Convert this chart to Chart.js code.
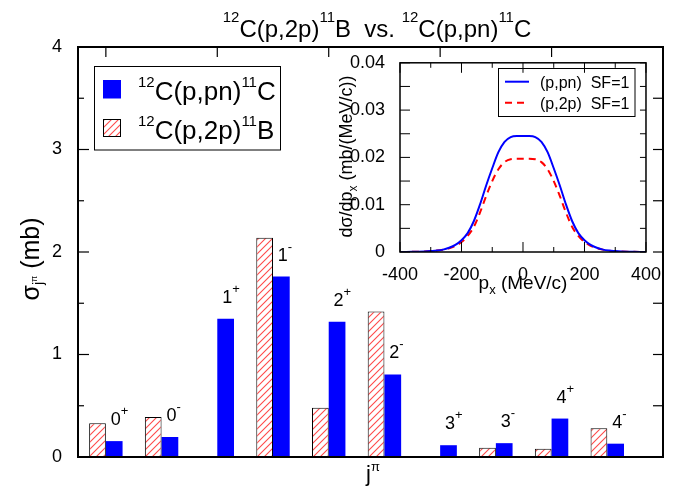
<!DOCTYPE html>
<html>
<head>
<meta charset="utf-8">
<script src="https://cdn.jsdelivr.net/npm/chart.js@4.4.0/dist/chart.umd.min.js"></script>
<style>
  body { margin: 0; background: #fff; }
  #wrap { position: relative; width: 683px; height: 493px; }
  #main { position: absolute; left: 0; top: 0; }
  #inset { position: absolute; left: 330px; top: 45px; }
</style>
</head>
<body>
<div id="wrap">
  <canvas id="main" width="683" height="493"></canvas>
  <canvas id="inset" width="335" height="255"></canvas>
</div>
<script>
// Main chart data: cross sections per final state j^pi
const stateJ = ['0', '0', '1', '1', '2', '2', '3', '3', '4', '4'];
const stateParity = ['+', '-', '+', '-', '+', '-', '+', '-', '+', '-'];
const sigma_p2p = [0.33, 0.39, 0, 2.14, 0.48, 1.42, 0, 0.09, 0.08, 0.28];
const sigma_ppn = [0.155, 0.195, 1.35, 1.76, 1.32, 0.805, 0.115, 0.135, 0.375, 0.13];
const yTicks = [0, 1, 2, 3, 4];

// Inset data: momentum distributions
const px = [-400, -380, -360, -340, -320, -300, -280, -260, -240, -220, -200, -180, -160, -140, -120, -100, -80, -60, -40, -20,
  0, 20, 40, 60, 80, 100, 120, 140, 160, 180, 200, 220, 240, 260, 280, 300, 320, 340, 360, 380, 400];
const dsdp_ppn = [0.00001, 0.00002, 0.00004, 0.00007, 0.00012, 0.0002, 0.0003, 0.0005, 0.0009, 0.0015, 0.0025, 0.0040, 0.0065, 0.0100, 0.0140, 0.0177, 0.0211, 0.0233, 0.0243, 0.0245,
  0.0245, 0.0245, 0.0243, 0.0233, 0.0211, 0.0177, 0.0140, 0.0100, 0.0065, 0.0040, 0.0025, 0.0015, 0.0009, 0.0005, 0.0003, 0.0002, 0.00012, 0.00007, 0.00004, 0.00002, 0.00001];
const dsdp_p2p = [0.00001, 0.00002, 0.00004, 0.00007, 0.00012, 0.0002, 0.0003, 0.0005, 0.0008, 0.0013, 0.0021, 0.0034, 0.0053, 0.0083, 0.0118, 0.0150, 0.0175, 0.0190, 0.0196, 0.0197,
  0.0197, 0.0197, 0.0196, 0.0190, 0.0175, 0.0150, 0.0118, 0.0083, 0.0053, 0.0034, 0.0021, 0.0013, 0.0008, 0.0005, 0.0003, 0.0002, 0.00012, 0.00007, 0.00004, 0.00002, 0.00001];

const FONT = '"Liberation Sans", Arial, Helvetica, sans-serif';

// red diagonal hatch on white
const hatchCanvas = document.createElement('canvas');
hatchCanvas.width = 7; hatchCanvas.height = 7;
const hg = hatchCanvas.getContext('2d');
hg.fillStyle = '#fff';
hg.fillRect(0, 0, 7, 7);
hg.strokeStyle = '#ff4a4a';
hg.lineWidth = 1.1;
hg.beginPath();
hg.moveTo(0, 7); hg.lineTo(7, 0);
hg.moveTo(-1, 1); hg.lineTo(1, -1);
hg.moveTo(6, 8); hg.lineTo(8, 6);
hg.stroke();
const hatch = hg.createPattern(hatchCanvas, 'repeat');

// draw text made of parts [text, size, dy]
function rich(ctx, x, y, parts, align) {
  let w = 0;
  parts.forEach(p => { ctx.font = p[1] + 'px ' + FONT; w += ctx.measureText(p[0]).width; });
  if (align === 'center') x -= w / 2;
  ctx.textAlign = 'left';
  ctx.textBaseline = 'alphabetic';
  parts.forEach(p => {
    ctx.font = p[1] + 'px ' + FONT;
    ctx.fillText(p[0], x, y + (p[2] || 0));
    x += ctx.measureText(p[0]).width;
  });
  return w;
}

function tick(ctx, x1, y1, x2, y2) {
  ctx.beginPath(); ctx.moveTo(x1, y1); ctx.lineTo(x2, y2); ctx.stroke();
}

const mainDeco = {
  id: 'mainDeco',
  afterDraw(chart) {
    const ctx = chart.ctx, ca = chart.chartArea;
    const xs = chart.scales.x, ys = chart.scales.y;
    ctx.save();
    ctx.fillStyle = '#000';
    ctx.strokeStyle = '#000';

    // labels above bars, anchored to the blue bars
    const blue = chart.getDatasetMeta(1).data;
    blue.forEach((el, i) => {
      rich(ctx, el.x - 3.5, el.y - 16, [[stateJ[i], 18], [stateParity[i], 13, -10]]);
    });

    // frame
    ctx.lineWidth = 2;
    ctx.strokeRect(ca.left, ca.top, ca.right - ca.left, ca.bottom - ca.top);

    // ticks
    ctx.lineWidth = 1.2;
    for (let v = 0; v <= 4; v += 0.5) {
      const y = ys.getPixelForValue(v);
      const len = Number.isInteger(v) ? 11 : 6;
      tick(ctx, ca.left, y, ca.left + len, y);
      tick(ctx, ca.right, y, ca.right - 10, y);
    }
    for (let i = 0; i <= 8; i += 2) {
      const x = xs.getPixelForValue(i);
      tick(ctx, x, ca.top, x, ca.top + 10);
    }

    // title
    rich(ctx, 377, 36.7, [['12', 15, -15], ['C(p,2p)', 24], ['11', 15, -15], ['B  vs. ', 24],
      ['12', 15, -15], ['C(p,pn)', 24], ['11', 15, -15], ['C', 24]], 'center');

    // axis titles
    rich(ctx, 366, 481, [['j', 22], ['\u03c0', 13, -10]]);
    ctx.save();
    ctx.translate(39, 259);
    ctx.rotate(-Math.PI / 2);
    rich(ctx, 0, 0, [['\u03c3', 25], ['j', 14, 4], ['\u03c0', 9, -2], [' (mb)', 25]], 'center');
    ctx.restore();

    // legend
    ctx.lineWidth = 1;
    ctx.strokeRect(94.5, 66.5, 186, 83.5);
    ctx.fillStyle = '#0000ff';
    ctx.fillRect(103, 80, 18, 18.5);
    ctx.fillStyle = hatch;
    ctx.fillRect(103.5, 119.5, 17, 17);
    ctx.strokeRect(103.5, 119.5, 17, 17);
    ctx.fillStyle = '#000';
    rich(ctx, 138, 100, [['12', 15, -13], ['C(p,pn)', 26], ['11', 15, -13], ['C', 26]]);
    rich(ctx, 138, 139, [['12', 15, -13], ['C(p,2p)', 26], ['11', 15, -13], ['B', 26]]);
    ctx.restore();
  }
};

new Chart(document.getElementById('main'), {
  type: 'bar',
  data: {
    datasets: [{
      label: '12C(p,2p)11B',
      data: sigma_p2p.map((v, i) => ({ x: i, y: v })),
      backgroundColor: hatch,
      borderColor: '#000',
      borderWidth: 1,
      categoryPercentage: 0.6,
      barPercentage: 1.0
    }, {
      label: '12C(p,pn)11C',
      data: sigma_ppn.map((v, i) => ({ x: i, y: v })),
      backgroundColor: '#0000ff',
      borderWidth: 0,
      categoryPercentage: 0.6,
      barPercentage: 1.0
    }]
  },
  options: {
    responsive: false,
    animation: false,
    layout: { padding: { top: 47, right: 20, left: 0, bottom: 0 } },
    plugins: { legend: { display: false }, tooltip: { enabled: false } },
    scales: {
      x: {
        type: 'linear', min: -0.5, max: 10, offset: false,
        grid: { display: false }, border: { display: false },
        ticks: { display: false },
        afterFit(s) { s.height = 36; }
      },
      y: {
        min: 0, max: 4,
        grid: { display: false }, border: { display: false },
        afterBuildTicks(s) { s.ticks = yTicks.map(v => ({ value: v })); },
        ticks: { color: '#000', font: { size: 18, family: FONT }, padding: 8 },
        afterFit(s) { s.width = 78; }
      }
    }
  },
  plugins: [mainDeco]
});

const insetDeco = {
  id: 'insetDeco',
  afterDraw(chart) {
    const ctx = chart.ctx, ca = chart.chartArea;
    const xs = chart.scales.x, ys = chart.scales.y;
    ctx.save();
    ctx.strokeStyle = '#000';
    ctx.fillStyle = '#000';
    ctx.lineWidth = 1.5;
    ctx.strokeRect(ca.left, ca.top, ca.right - ca.left, ca.bottom - ca.top);

    ctx.lineWidth = 1;
    for (let v = 0; v <= 0.0401; v += 0.005) {
      const y = ys.getPixelForValue(v);
      tick(ctx, ca.left, y, ca.left + 10, y);
      tick(ctx, ca.right, y, ca.right - 6, y);
    }
    for (let v = -400; v <= 400; v += 100) {
      const x = xs.getPixelForValue(v);
      const len = v % 200 === 0 ? 10 : 5;
      tick(ctx, x, ca.bottom, x, ca.bottom - len);
      tick(ctx, x, ca.top, x, ca.top + len);
    }

    // legend
    ctx.strokeRect(168.5, 23.5, 136.5, 48);
    ctx.lineWidth = 2;
    ctx.strokeStyle = '#0000ff';
    tick(ctx, 175, 36.7, 199, 36.7);
    ctx.strokeStyle = '#ff0000';
    ctx.setLineDash([7, 5]);
    tick(ctx, 175, 57.7, 199, 57.7);
    ctx.setLineDash([]);
    rich(ctx, 210, 42.5, [['(p,pn)  SF=1', 16]]);
    rich(ctx, 210, 63.5, [['(p,2p)  SF=1', 16]]);

    // axis titles
    rich(ctx, 193, 244, [['p', 19], ['x', 13, 5], [' (MeV/c)', 19]], 'center');
    ctx.save();
    ctx.translate(22, 111.5);
    ctx.rotate(-Math.PI / 2);
    rich(ctx, 0, 0, [['d\u03c3/dp', 18], ['x', 12, 5], [' (mb/(MeV/c))', 18]], 'center');
    ctx.restore();
    ctx.restore();
  }
};

new Chart(document.getElementById('inset'), {
  type: 'line',
  data: {
    datasets: [{
      label: '(p,pn) SF=1',
      data: px.map((v, i) => ({ x: v, y: dsdp_ppn[i] })),
      borderColor: '#0000ff',
      borderWidth: 2,
      pointRadius: 0,
      cubicInterpolationMode: 'monotone'
    }, {
      label: '(p,2p) SF=1',
      data: px.map((v, i) => ({ x: v, y: dsdp_p2p[i] })),
      borderColor: '#ff0000',
      borderWidth: 2,
      borderDash: [7, 5],
      pointRadius: 0,
      cubicInterpolationMode: 'monotone'
    }]
  },
  options: {
    responsive: false,
    animation: false,
    layout: { padding: { top: 16, right: 19, left: 0, bottom: 0 } },
    plugins: { legend: { display: false }, tooltip: { enabled: false } },
    scales: {
      x: {
        type: 'linear', min: -400, max: 400,
        grid: { display: false }, border: { display: false },
        ticks: { stepSize: 200, color: '#000', font: { size: 18, family: FONT }, padding: 4, maxRotation: 0 },
        afterFit(s) { s.height = 48; }
      },
      y: {
        min: 0, max: 0.04,
        grid: { display: false }, border: { display: false },
        ticks: {
          stepSize: 0.01, color: '#000', font: { size: 18, family: FONT }, padding: 7,
          callback: v => v === 0 ? '0' : v.toFixed(2)
        },
        afterFit(s) { s.width = 70; }
      }
    }
  },
  plugins: [insetDeco]
});
</script>
</body>
</html>
